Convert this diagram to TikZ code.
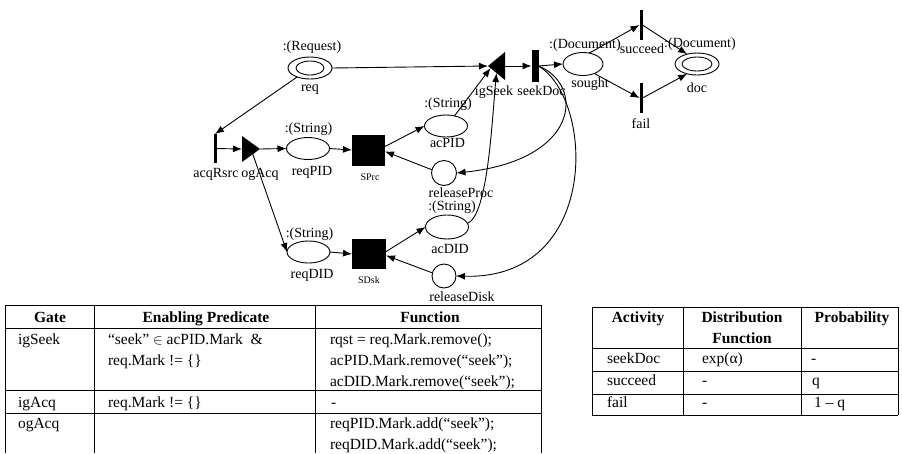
\documentclass[tikz,border=0pt]{standalone}
\usepackage{fontspec}
\setmainfont{Liberation Serif}
\usetikzlibrary{arrows.meta,calc,shapes.geometric}
\begin{document}
\begin{tikzpicture}[x=1pt,y=-1pt,
  every node/.style={inner sep=0pt, outer sep=0pt},
  lbl/.style={font=\fontsize{14}{16}\selectfont, anchor=base},
  small/.style={font=\fontsize{10}{12}\selectfont, anchor=base},
  cell/.style={font=\fontsize{15.5}{18}\selectfont, anchor=base west},
  head/.style={font=\fontsize{15.5}{18}\selectfont\bfseries, anchor=base},
  place/.style={draw, ellipse, line width=0.9pt, minimum width=43pt, minimum height=22pt},
  token/.style={draw, circle, line width=0.9pt, minimum size=25pt},
  subnet/.style={fill=black, minimum width=33pt, minimum height=31pt},
  instbar/.style={fill=black, minimum width=3pt, minimum height=30pt},
  timedbar/.style={fill=black, minimum width=7pt, minimum height=32pt},
  gatebox/.style={minimum width=18pt, minimum height=27pt},
  arr/.style={-{Latex[length=9pt,width=7pt]}, line width=0.9pt},
  rule/.style={line width=0.9pt}
]
\useasboundingbox (0,0) rectangle (902,453);

% ---------- places ----------
\node[place, minimum width=44pt] (req) at (310,68) {};
\draw[line width=0.9pt] (req.center) ellipse [x radius=14pt, y radius=7pt];
\node[place] (reqPID) at (308,148.5) {};
\node[place] (reqDID) at (308.5,252) {};
\node[place] (acPID) at (446,126) {};
\node[place, minimum height=24pt] (acDID) at (447,227) {};
\node[token] (releaseProc) at (444,173) {};
\node[token, minimum size=24pt] (releaseDisk) at (444,276) {};
\node[place, minimum width=40pt, minimum height=23pt] (sought) at (583,64) {};
\node[place, minimum width=44pt] (doc) at (697,64) {};
\draw[line width=0.9pt] (doc.center) ellipse [x radius=15pt, y radius=7pt];

% ---------- activities and subnets ----------
\node[instbar, minimum height=29pt] (acqRsrc) at (215,148.5) {};
\node[subnet] (SPrc) at (368.5,150) {};
\node[subnet, minimum width=34pt, minimum height=30pt] (SDsk) at (369,254) {};
\node[timedbar] (seekDoc) at (535,66) {};
\node[instbar] (succeed) at (641,25) {};
\node[instbar] (fail) at (641,98) {};

% ---------- gates (outlines drawn after the arcs) ----------
\node[gatebox, minimum width=18pt, minimum height=26pt] (ogAcq) at (251,149) {};
\node[gatebox, minimum width=17pt, minimum height=28pt] (igSeek) at (496.5,66) {};

% ---------- arcs ----------
\draw[arr] (req) -- (acqRsrc.north);
\draw[arr] (acqRsrc) -- (ogAcq.west);
\draw[arr] (ogAcq.east) -- (reqPID.west);
\draw[arr] (ogAcq.center) -- (reqDID.west);
\draw[arr] (reqPID.east) -- (SPrc.west);
\draw[arr] (reqDID.east) -- (SDsk.west);
\draw[arr] (SPrc.12) -- (acPID.west);
\draw[arr] (releaseProc.165) -- (SPrc.-5);
\draw[arr] (SDsk.8) -- (acDID.west);
\draw[arr] (releaseDisk.165) -- (SDsk.-5);
\draw[arr] (req.east) -- (igSeek.west);
\draw[arr] (acPID.50) -- ($(igSeek.west)!0.15!(igSeek.south east)$);
\draw[arr] (acDID.10) .. controls (488,215) and (492,120) .. ($(igSeek.west)!0.5!(igSeek.south east)$);
\draw[arr] (igSeek.east) -- (seekDoc.west);
\draw[arr] (seekDoc.east) -- (sought.west);
\draw[arr] (seekDoc.east) .. controls (585,85) and (580,160) .. (releaseProc.east);
\draw[arr] (seekDoc.east) .. controls (595,100) and (600,280) .. (releaseDisk.east);
\draw[arr] (sought.60) -- (succeed.west);
\draw[arr] (succeed.east) -- (doc.135);
\draw[arr] (sought.-40) -- (fail.west);
\draw[arr] (fail.east) -- (doc.-135);

% gate triangles
\fill (ogAcq.north west) -- (ogAcq.south west) -- (ogAcq.east) -- cycle;
\fill (igSeek.north east) -- (igSeek.south east) -- (igSeek.west) -- cycle;

% ---------- labels ----------
\node[lbl] (reqT) at (312,50) {:(Request)};
\node[lbl] (reqL) at (310,91) {req};
\node[lbl] (reqPIDT) at (308.5,132) {:(String)};
\node[lbl] (reqPIDL) at (312,175) {reqPID};
\node[lbl] (acqRsrcL) at (216,177) {acqRsrc};
\node[lbl] (ogAcqL) at (260,177) {ogAcq};
\node[small] (SPrcL) at (370,180) {SPrc};
\node[lbl] (acPIDT) at (448,107) {:(String)};
\node[lbl] (acPIDL) at (447.5,147) {acPID};
\node[lbl] (releaseProcL) at (461,197) {releaseProc};
\node[lbl] (acDIDT) at (452,210) {:(String)};
\node[lbl] (acDIDL) at (450,253) {acDID};
\node[lbl] (releaseDiskL) at (462,301) {releaseDisk};
\node[lbl] (reqDIDT) at (309.5,237) {:(String)};
\node[lbl] (reqDIDL) at (312,278) {reqDID};
\node[small] (SDskL) at (369,283) {SDsk};
\node[lbl] (igSeekL) at (494,95) {igSeek};
\node[lbl] (seekDocL) at (541.5,95) {seekDoc};
\node[lbl] (soughtT) at (585,48) {:(Document)};
\node[lbl] (soughtL) at (590,87) {sought};
\node[lbl] (succeedL) at (642,53) {succeed};
\node[lbl] (failL) at (641,128) {fail};
\node[lbl] (docT) at (700,47) {:(Document)};
\node[lbl] (docL) at (697,92) {doc};

% ---------- gate table ----------
\foreach \yy in {305,328,390,413} \draw[rule] (5,\yy) -- (541,\yy);
\foreach \xx in {5,94,315,541} \draw[rule] (\xx,305) -- (\xx,453);
\node[head] (gH1) at (50,322) {Gate};
\node[head] (gH2) at (206,322) {Enabling Predicate};
\node[head] (gH3) at (430,322) {Function};
\node[cell] (g11) at (18,344) {igSeek};
\node[cell] (g12) at (108,344) {“seek” $\in$ acPID.Mark\ \ \&};
\node[cell] (g12b) at (108,365) {req.Mark != \{\}};
\node[cell] (g13) at (330,344) {rqst = req.Mark.remove();};
\node[cell] (g13b) at (330,365) {acPID.Mark.remove(“seek”);};
\node[cell] (g13c) at (330,386) {acDID.Mark.remove(“seek”);};
\node[cell] (g21) at (18,407) {igAcq};
\node[cell] (g22) at (108,407) {req.Mark != \{\}};
\node[cell] (g23) at (331,407) {-};
\node[cell] (g31) at (18,428) {ogAcq};
\node[cell] (g33) at (330,428) {reqPID.Mark.add(“seek”);};
\node[cell] (g33b) at (330,449) {reqDID.Mark.add(“seek”);};

% ---------- activity table ----------
\foreach \yy in {307,348,371,394,415} \draw[rule] (592,\yy) -- (898,\yy);
\foreach \xx in {592,683,801,898} \draw[rule] (\xx,307) -- (\xx,415);
\node[head] (aH1) at (638,322) {Activity};
\node[head] (aH2) at (742,322) {Distribution};
\node[head] (aH2b) at (742,343) {Function};
\node[head] (aH3) at (852,322) {Probability};
\node[cell] (a11) at (607,363) {seekDoc};
\node[cell] (a12) at (702,363) {exp(α)};
\node[cell] (a13) at (811,363) {-};
\node[cell] (a21) at (607,385) {succeed};
\node[cell] (a22) at (702,385) {-};
\node[cell] (a23) at (812,385) {q};
\node[cell] (a31) at (607,407) {fail};
\node[cell] (a32) at (702,407) {-};
\node[cell] (a33) at (814,407) {1 – q};
\end{tikzpicture}
\end{document}
